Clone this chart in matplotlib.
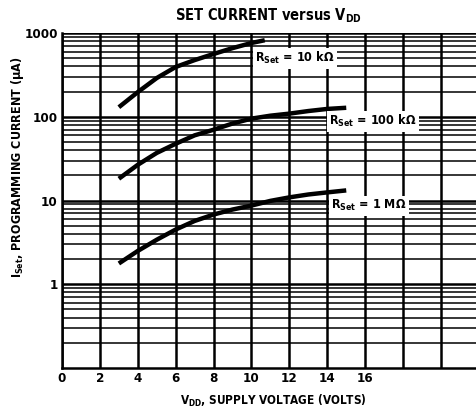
import matplotlib
matplotlib.use("Agg")
import matplotlib.pyplot as plt
import numpy as np

# ---- data ----
v_10k = [3, 4, 5, 6, 7, 8, 9, 10, 10.7]
i_10k = [130, 197, 290, 393, 475, 562, 660, 760, 820]

v_100k = [3, 4, 5, 6, 7, 8, 9, 10, 11, 12, 13, 14, 15]
i_100k = [18.2, 26.7, 37, 47.6, 60, 70, 83, 95, 103, 109, 117, 124, 128]

v_1m = [3, 4, 5, 6, 7, 8, 9, 10, 11, 12, 13, 14, 15]
i_1m = [1.77, 2.5, 3.4, 4.5, 5.7, 6.8, 7.8, 8.7, 9.9, 10.9, 11.8, 12.5, 13.2]

x_ticks = [0, 2, 4, 6, 8, 10, 12, 14, 16, 18, 20]
x_tick_labels = ["0", "2", "4", "6", "8", "10", "12", "14", "16", "", ""]
y_ticks = [1, 10, 100, 1000]
y_tick_labels = ["1", "10", "100", "1000"]

labels = [r"R$_{\mathrm{Set}}$ = 10 k$\Omega$",
          r"R$_{\mathrm{Set}}$ = 100 k$\Omega$",
          r"R$_{\mathrm{Set}}$ = 1 M$\Omega$"]

# ---- fonts ----
plt.rcParams["font.family"] = ["DejaVu Sans"]
plt.rcParams["font.stretch"] = "condensed"
plt.rcParams["font.weight"] = "bold"
plt.rcParams["mathtext.default"] = "regular"

fig = plt.figure(figsize=(4.77, 4.11), dpi=100)
ax = fig.add_axes([62 / 477, 43 / 411, 1 - 62 / 477, (368 - 33) / 411])

ax.set_yscale("log")
ax.set_xlim(0, 21.9)
ax.set_ylim(0.1, 1000)

ax.set_xticks(x_ticks)
ax.set_xticklabels(x_tick_labels, fontsize=9.5, fontweight="bold")
ax.set_yticks(y_ticks)
ax.set_yticklabels(y_tick_labels, fontsize=9.5, fontweight="bold")
ax.yaxis.set_minor_locator(matplotlib.ticker.LogLocator(base=10, subs=np.arange(2, 10)))
ax.yaxis.set_minor_formatter(matplotlib.ticker.NullFormatter())
ax.tick_params(axis="x", which="both", length=0, pad=3)
ax.tick_params(axis="y", which="both", length=0, pad=3)

ax.grid(True, axis="x", which="major", color="black", lw=1.8)
ax.grid(True, axis="y", which="major", color="black", lw=1.8)
ax.grid(True, axis="y", which="minor", color="black", lw=1.1)
ax.set_axisbelow(True)

for s in ["top", "right"]:
    ax.spines[s].set_visible(False)
for s in ["left", "bottom"]:
    ax.spines[s].set_linewidth(1.8)

for v, i in [(v_10k, i_10k), (v_100k, i_100k), (v_1m, i_1m)]:
    ax.plot(v, i, color="black", lw=3.2, solid_capstyle="butt", zorder=3)

bbox = dict(boxstyle="square,pad=0.2", fc="white", ec="none")
ax.text(12.3, 500, labels[0], fontsize=9, ha="center", va="center", bbox=bbox, zorder=4)
ax.text(16.4, 88, labels[1], fontsize=9, ha="center", va="center", bbox=bbox, zorder=4)
ax.text(16.2, 8.7, labels[2], fontsize=9, ha="center", va="center", bbox=bbox, zorder=4)

fig.text(268 / 477, 1 - 16 / 411, r"SET CURRENT versus V$_{\mathrm{DD}}$",
         fontsize=10.5, ha="center", va="center", fontweight="bold")
fig.text(273 / 477, 1 - 401 / 411, r"V$_{\mathrm{DD}}$, SUPPLY VOLTAGE (VOLTS)",
         fontsize=8.5, ha="center", va="center", fontweight="bold")
fig.text(18 / 477, 1 - 167 / 411, r"I$_{\mathrm{Set}}$, PROGRAMMING CURRENT ($\mu$A)",
         fontsize=9, ha="center", va="center", rotation=90, fontweight="bold")

fig.savefig("out.png", dpi=100)
